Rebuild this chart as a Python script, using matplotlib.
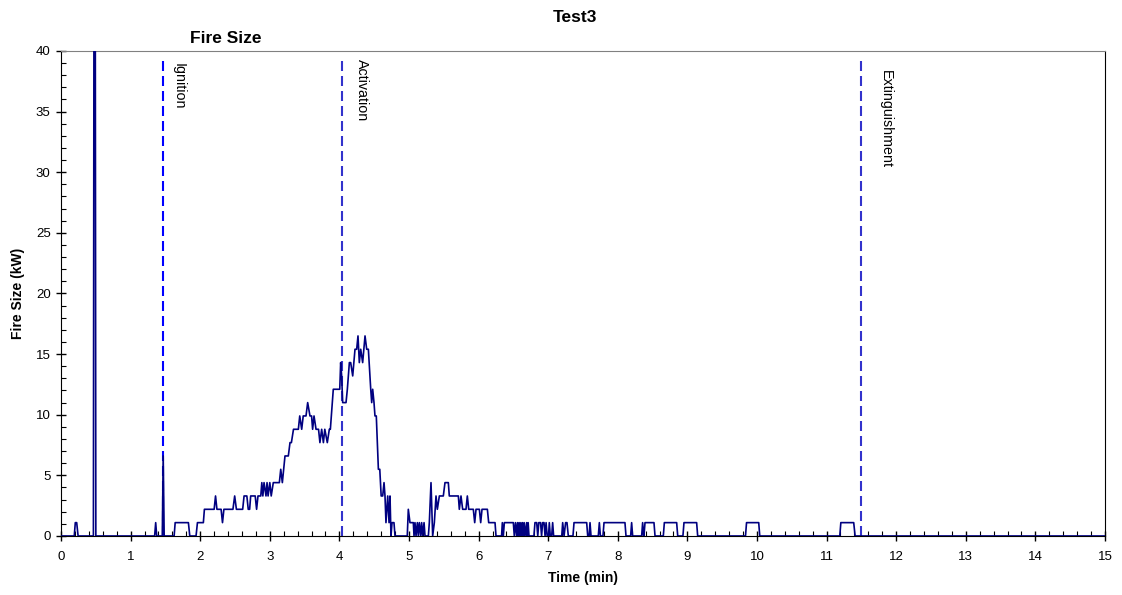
import matplotlib
matplotlib.use("Agg")
import matplotlib.pyplot as plt
from matplotlib.ticker import MultipleLocator

plt.rcParams['font.family'] = ['Liberation Sans', 'DejaVu Sans']

# heat release trace, minutes vs kW (vertices of the logged signal)
time_min = [
    0.0, 0.19, 0.205, 0.225, 0.245,
    0.465, 0.475, 0.49, 0.50,
    1.345, 1.36, 1.375, 1.455, 1.468, 1.482,
    1.625, 1.64, 1.83, 1.85,
    1.94, 1.96, 2.045, 2.06, 2.20, 2.22, 2.24, 2.30, 2.32, 2.34, 2.47, 2.495, 2.52,
    2.61, 2.63, 2.67, 2.69, 2.71, 2.725, 2.79, 2.81, 2.83, 2.87,
    2.885, 2.90, 2.917, 2.945, 2.96, 2.975, 3.0, 3.02, 3.05, 3.137, 3.157, 3.18,
    3.218, 3.266, 3.29, 3.31, 3.34, 3.41, 3.43, 3.458, 3.48, 3.52, 3.544, 3.577,
    3.60, 3.615, 3.635, 3.664, 3.70, 3.72, 3.745, 3.77, 3.79, 3.826, 3.855, 3.87,
    3.912, 4.005, 4.018, 4.032, 4.047, 4.066, 4.095, 4.114, 4.143, 4.162, 4.191,
    4.224, 4.248, 4.267, 4.286, 4.306, 4.334, 4.368, 4.392, 4.416, 4.45, 4.464,
    4.478, 4.497, 4.511, 4.53, 4.56, 4.58, 4.60, 4.622, 4.641, 4.655, 4.669,
    4.694, 4.713, 4.727, 4.741, 4.756, 4.784, 4.799,
    4.975, 4.99, 5.014, 5.062, 5.072, 5.086, 5.101, 5.12, 5.134, 5.149, 5.168,
    5.182, 5.197, 5.216, 5.23, 5.278, 5.292, 5.316, 5.34, 5.364, 5.388, 5.407,
    5.436, 5.493, 5.517, 5.565, 5.579, 5.709, 5.723, 5.747, 5.771, 5.819, 5.838,
    5.858, 5.924, 5.944, 5.963, 6.011, 6.030, 6.049, 6.126, 6.145, 6.236, 6.25,
    6.33, 6.341, 6.355, 6.37, 6.499, 6.513,
    6.53, 6.547, 6.56, 6.571, 6.583, 6.595, 6.607, 6.619, 6.631, 6.643, 6.655,
    6.667, 6.69, 6.70, 6.712, 6.724,
    6.795, 6.81, 6.835, 6.85, 6.865, 6.89, 6.905, 6.92, 6.94, 6.955, 6.97, 6.985,
    7.005, 7.016, 7.03, 7.05, 7.064, 7.078,
    7.195, 7.208, 7.228, 7.25, 7.27, 7.289,
    7.356, 7.371, 7.553, 7.568, 7.588, 7.601, 7.615,
    7.72, 7.735, 7.75, 7.787, 7.802, 8.103, 8.118,
    8.185, 8.199, 8.213, 8.343, 8.357, 8.371, 8.376, 8.391, 8.52, 8.535,
    8.654, 8.669, 8.846, 8.861, 8.936, 8.951, 9.133, 9.148,
    9.835, 9.85, 10.025, 10.04,
    11.19, 11.205, 11.39, 11.41, 15.0,
]
fire_kw = [
    0, 0, 1.1, 1.1, 0,
    0, 55, 55, 0,
    0, 1.1, 0, 0, 6.6, 0,
    0, 1.1, 1.1, 0,
    0, 1.1, 1.1, 2.2, 2.2, 3.3, 2.2, 2.2, 1.1, 2.2, 2.2, 3.3, 2.2,
    2.2, 3.3, 3.3, 2.2, 2.2, 3.3, 3.3, 2.2, 3.3, 3.3,
    4.4, 3.3, 4.4, 3.3, 4.4, 3.3, 4.4, 3.3, 4.4, 4.4, 5.5, 4.4,
    6.6, 6.6, 7.7, 7.7, 8.8, 8.8, 9.9, 8.8, 9.9, 9.9, 11.0, 9.9,
    9.9, 8.8, 9.9, 8.8, 8.8, 7.7, 8.8, 7.7, 8.8, 7.7, 8.8, 8.8,
    12.1, 12.1, 14.3, 13.2, 11.0, 11.0, 11.0, 12.1, 14.3, 14.3, 13.2,
    15.4, 15.4, 16.5, 14.3, 15.4, 14.3, 16.5, 15.4, 15.4, 12.1, 11.0,
    12.1, 11.0, 9.9, 9.9, 5.5, 5.5, 3.3, 3.3, 4.4, 3.3, 1.1,
    3.3, 1.1, 3.3, 0, 1.1, 1.1, 0,
    0, 2.2, 1.1, 1.1, 0, 1.1, 0, 1.1, 0, 1.1, 0,
    1.1, 0, 1.1, 0, 0, 1.1, 4.4, 0, 1.1, 3.3, 2.2,
    3.3, 3.3, 4.4, 4.4, 3.3, 3.3, 2.2, 3.3, 2.2, 2.2, 3.3,
    2.2, 2.2, 1.1, 2.2, 2.2, 1.1, 2.2, 2.2, 1.1, 1.1, 0,
    0, 1.1, 0, 1.1, 1.1, 0,
    1.1, 0, 1.1, 0, 1.1, 0, 1.1, 0, 1.1, 0, 1.1,
    0, 1.1, 0, 1.1, 0,
    0, 1.1, 1.1, 0, 1.1, 1.1, 0, 1.1, 1.1, 0, 1.1, 0,
    0, 1.1, 0, 0, 1.1, 0,
    0, 1.1, 0, 1.1, 1.1, 0,
    0, 1.1, 1.1, 0, 0, 1.1, 0,
    0, 1.1, 0, 0, 1.1, 1.1, 0,
    0, 1.1, 0, 0, 1.1, 0, 0, 1.1, 1.1, 0,
    0, 1.1, 1.1, 0, 0, 1.1, 1.1, 0,
    0, 1.1, 1.1, 0,
    0, 1.1, 1.1, 0, 0,
]

event_names = ['Ignition', 'Activation', 'Extinguishment']
event_times = [1.466, 4.04, 11.50]

fig = plt.figure(figsize=(11.22, 5.95), dpi=100)
ax = fig.add_axes([0.0544, 0.0992, 0.9304, 0.8151])

ax.plot(time_min, fire_kw, color='#000080', lw=1.2, zorder=3)

# event markers with their labels written downwards
ev_colors = ['#0000ff', '#3333cc', '#3333cc']
label_x = [1.59, 4.225, 11.755]
label_y = [39.0, 39.35, 38.45]
for name, t, c, lx, ly in zip(event_names, event_times, ev_colors, label_x, label_y):
    ax.plot([t, t], [0, 39.4], color=c, lw=1.5, linestyle=(0, (4.8, 2.4)), zorder=2)
    ax.text(lx, ly, name, rotation=-90, ha='left', va='top', fontsize=10.3)

ax.set_xlim(0, 15)
ax.set_ylim(0, 40)
ax.xaxis.set_major_locator(MultipleLocator(1))
ax.xaxis.set_minor_locator(MultipleLocator(0.2))
ax.yaxis.set_major_locator(MultipleLocator(5))
ax.yaxis.set_minor_locator(MultipleLocator(1))
ax.tick_params(which='major', direction='inout', length=7, width=1, labelsize=9.5)
ax.tick_params(axis='x', which='major', pad=7)
ax.tick_params(axis='y', which='major', pad=4)
ax.tick_params(which='minor', direction='in', length=3.5, width=0.8)

for side in ['left', 'right', 'bottom']:
    ax.spines[side].set_color('black')
ax.spines['top'].set_color('#808080')

ax.set_xlabel('Time (min)', fontsize=10, fontweight='bold', labelpad=6)
ax.set_ylabel('Fire Size (kW)', fontsize=10, fontweight='bold', labelpad=8)

fig.text(0.5125, 0.970, 'Test3', ha='center', va='center', fontsize=12.5, fontweight='bold')
fig.text(0.2014, 0.9345, 'Fire Size', ha='center', va='center', fontsize=12.5, fontweight='bold')

fig.savefig('out.png', dpi=100)
